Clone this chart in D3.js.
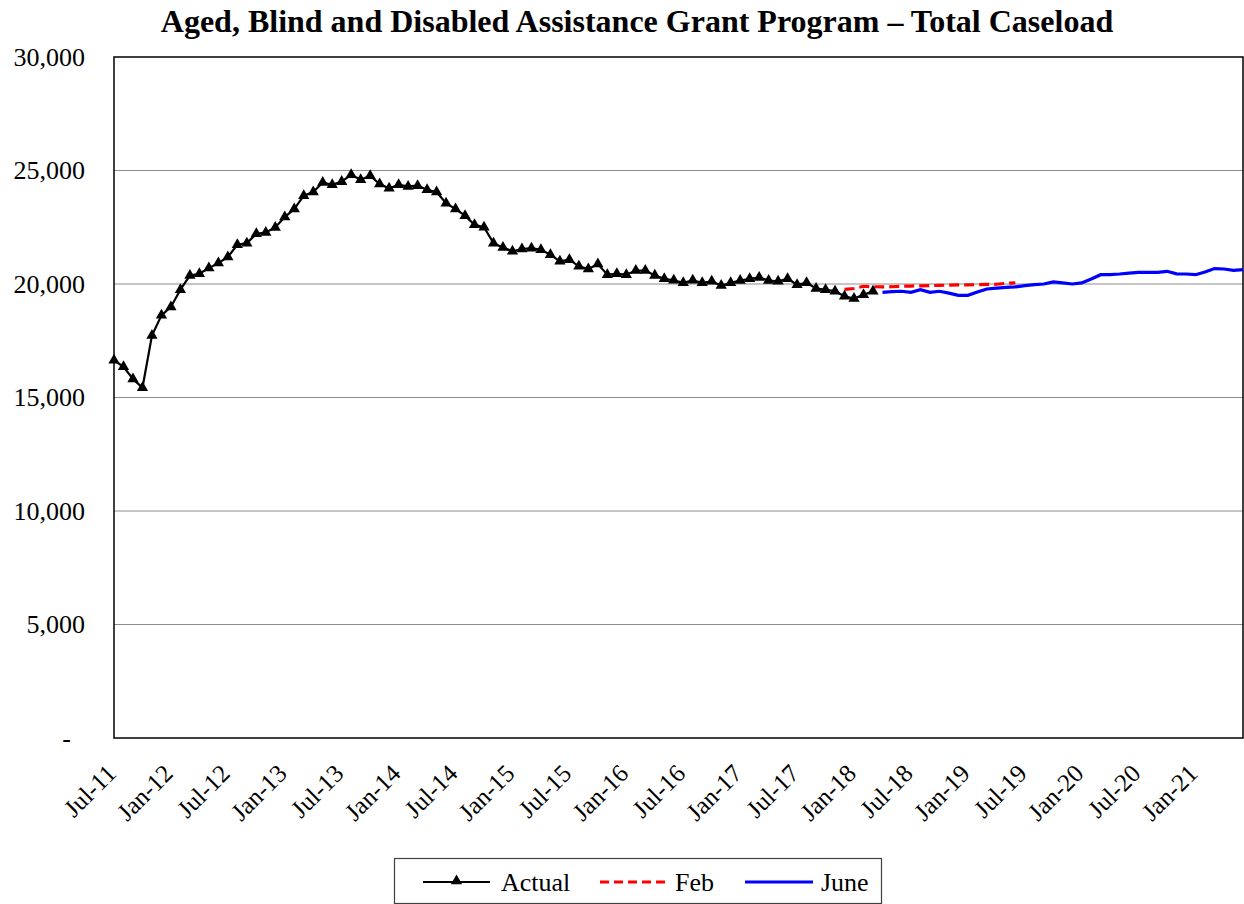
<!DOCTYPE html>
<html><head><meta charset="utf-8">
<script src="https://cdn.jsdelivr.net/npm/d3@7"></script>
<style>
body{margin:0;background:#fff;}
svg{display:block;font-family:"Liberation Serif","Times New Roman",serif;}
</style></head>
<body><svg id="chart" width="1244" height="904"></svg>
<script>
// ---- data ----
const startMonth = new Date(2011, 6, 1); // Jul-11
const monthCount = 120;                  // Jul-11 .. Jun-21
const tickLabels = ["Jul-11","Jan-12","Jul-12","Jan-13","Jul-13","Jan-14","Jul-14","Jan-15","Jul-15","Jan-16",
  "Jul-16","Jan-17","Jul-17","Jan-18","Jul-18","Jan-19","Jul-19","Jan-20","Jul-20","Jan-21"];
const yTicks = [0,5000,10000,15000,20000,25000,30000];

const actualStart = 0;
const actualValues = [16640,16350,15820,15430,17730,18620,18990,19750,20370,20450,
  20700,20920,21190,21730,21800,22210,22270,22490,22950,23300,
  23890,24050,24470,24370,24510,24810,24590,24770,24400,24220,
  24370,24300,24330,24150,24050,23560,23300,23010,22610,22500,
  21800,21610,21440,21540,21580,21510,21290,21000,21070,20780,
  20660,20880,20410,20450,20410,20590,20590,20380,20230,20160,
  20050,20160,20050,20120,19930,20050,20150,20230,20290,20150,
  20120,20230,19970,20050,19800,19750,19680,19460,19360,19530,19680];

const febStart = 77;
const febValues = [19760,19800,19900,19880,19870,19880,19900,19910,19920,19930,
  19940,19950,19960,19960,19970,19980,19990,20030,20050];

const juneStart = 81;
const juneValues = [19630,19660,19680,19630,19750,19630,19680,19600,19500,19500,
  19650,19780,19820,19850,19870,19930,19970,20000,20090,20050,
  20000,20050,20220,20410,20410,20440,20480,20510,20510,20510,
  20560,20450,20440,20410,20530,20680,20660,20600,20630];

const seriesNames = ["Actual","Feb","June"];

// ---- layout ----
const svg = d3.select("#chart");
const L = 114, R = 1243, T = 57, B = 738;

const months = d3.timeMonth.range(startMonth, d3.timeMonth.offset(startMonth, monthCount));
const fmtMonth = d3.timeFormat("%b-%y");
const cats = months.map(fmtMonth);

const x = d3.scalePoint().domain(cats).range([L, R]);
const y = d3.scaleLinear().domain([0, 30000]).range([B, T]);

// title
svg.append("text").attr("x", 637).attr("y", 32).attr("text-anchor","middle")
  .style("font-size","32px").style("font-weight","bold")
  .text("Aged, Blind and Disabled Assistance Grant Program \u2013 Total Caseload");

// gridlines
svg.append("g").selectAll("line").data(yTicks.filter(d => d > 0 && d < 30000)).join("line")
  .attr("x1", L).attr("x2", R).attr("y1", d => y(d)).attr("y2", d => y(d))
  .attr("stroke", "#8c8c8c").attr("stroke-width", 1);

// y axis
const yAxis = svg.append("g").attr("transform", `translate(${L},0)`)
  .call(d3.axisLeft(y).tickValues(yTicks).tickSize(0).tickPadding(29)
    .tickFormat(d => d === 0 ? "-" : d3.format(",")(d)));
yAxis.select(".domain").remove();
yAxis.selectAll("text").style("font-size","26px").style("font-family","Liberation Serif")
  .attr("fill","#000")
  .attr("dx", d => d === 0 ? -14 : 0);

// x axis
const xAxis = svg.append("g").attr("transform", `translate(0,${B})`)
  .call(d3.axisBottom(x).tickValues(tickLabels).tickSize(0));
xAxis.select(".domain").remove();
xAxis.selectAll("text").style("font-size","25px").style("font-family","Liberation Serif")
  .attr("fill","#000")
  .attr("x", 0).attr("y", 0).attr("dy", 0)
  .attr("text-anchor","end")
  .attr("transform","translate(3,37) rotate(-45)");

// plot border
svg.append("rect").attr("x", L).attr("y", T).attr("width", R - L).attr("height", B - T)
  .attr("fill","none").attr("stroke","#000").attr("stroke-width",1.5);

function pts(vals, start){ return vals.map((v,i) => ({c: cats[start+i], v})); }
const line = d3.line().x(d => x(d.c)).y(d => y(d.v));

const actualPts = pts(actualValues, actualStart);
const febPts = pts(febValues, febStart);
const junePts = pts(juneValues, juneStart);

svg.append("path").datum(febPts).attr("d", line).attr("fill","none")
  .attr("stroke","#ff0000").attr("stroke-width",3.2).attr("stroke-dasharray","10,5");
svg.append("path").datum(junePts).attr("d", line).attr("fill","none")
  .attr("stroke","#0000ff").attr("stroke-width",3.2);
svg.append("path").datum(actualPts).attr("d", line).attr("fill","none")
  .attr("stroke","#000").attr("stroke-width",2.2);

const tri = d3.symbol().type(d3.symbolTriangle).size(55);
svg.append("g").selectAll("path").data(actualPts).join("path")
  .attr("d", tri).attr("transform", d => `translate(${x(d.c)},${y(d.v)})`).attr("fill","#000");

// legend
const lg = svg.append("g");
lg.append("rect").attr("x", 394.5).attr("y", 858.5).attr("width", 487).attr("height", 45)
  .attr("fill","#fff").attr("stroke","#404040").attr("stroke-width",1.2);
const legendItems = [
  {name: seriesNames[0], x1: 423, x2: 490, tx: 501, color:"#000", w:2.2, dash:null, marker:true},
  {name: seriesNames[1], x1: 600, x2: 668, tx: 675, color:"#ff0000", w:3.2, dash:"9,5", marker:false},
  {name: seriesNames[2], x1: 745, x2: 813, tx: 821, color:"#0000ff", w:3.2, dash:null, marker:false}
];
legendItems.forEach(it => {
  lg.append("line").attr("x1", it.x1).attr("x2", it.x2).attr("y1", 882).attr("y2", 882)
    .attr("stroke", it.color).attr("stroke-width", it.w).attr("stroke-dasharray", it.dash);
  if (it.marker) lg.append("path").attr("d", tri).attr("transform", `translate(${(it.x1+it.x2)/2},881)`).attr("fill","#000");
  lg.append("text").attr("x", it.tx).attr("y", 891).style("font-size","26px").text(it.name);
});
</script></body></html>
